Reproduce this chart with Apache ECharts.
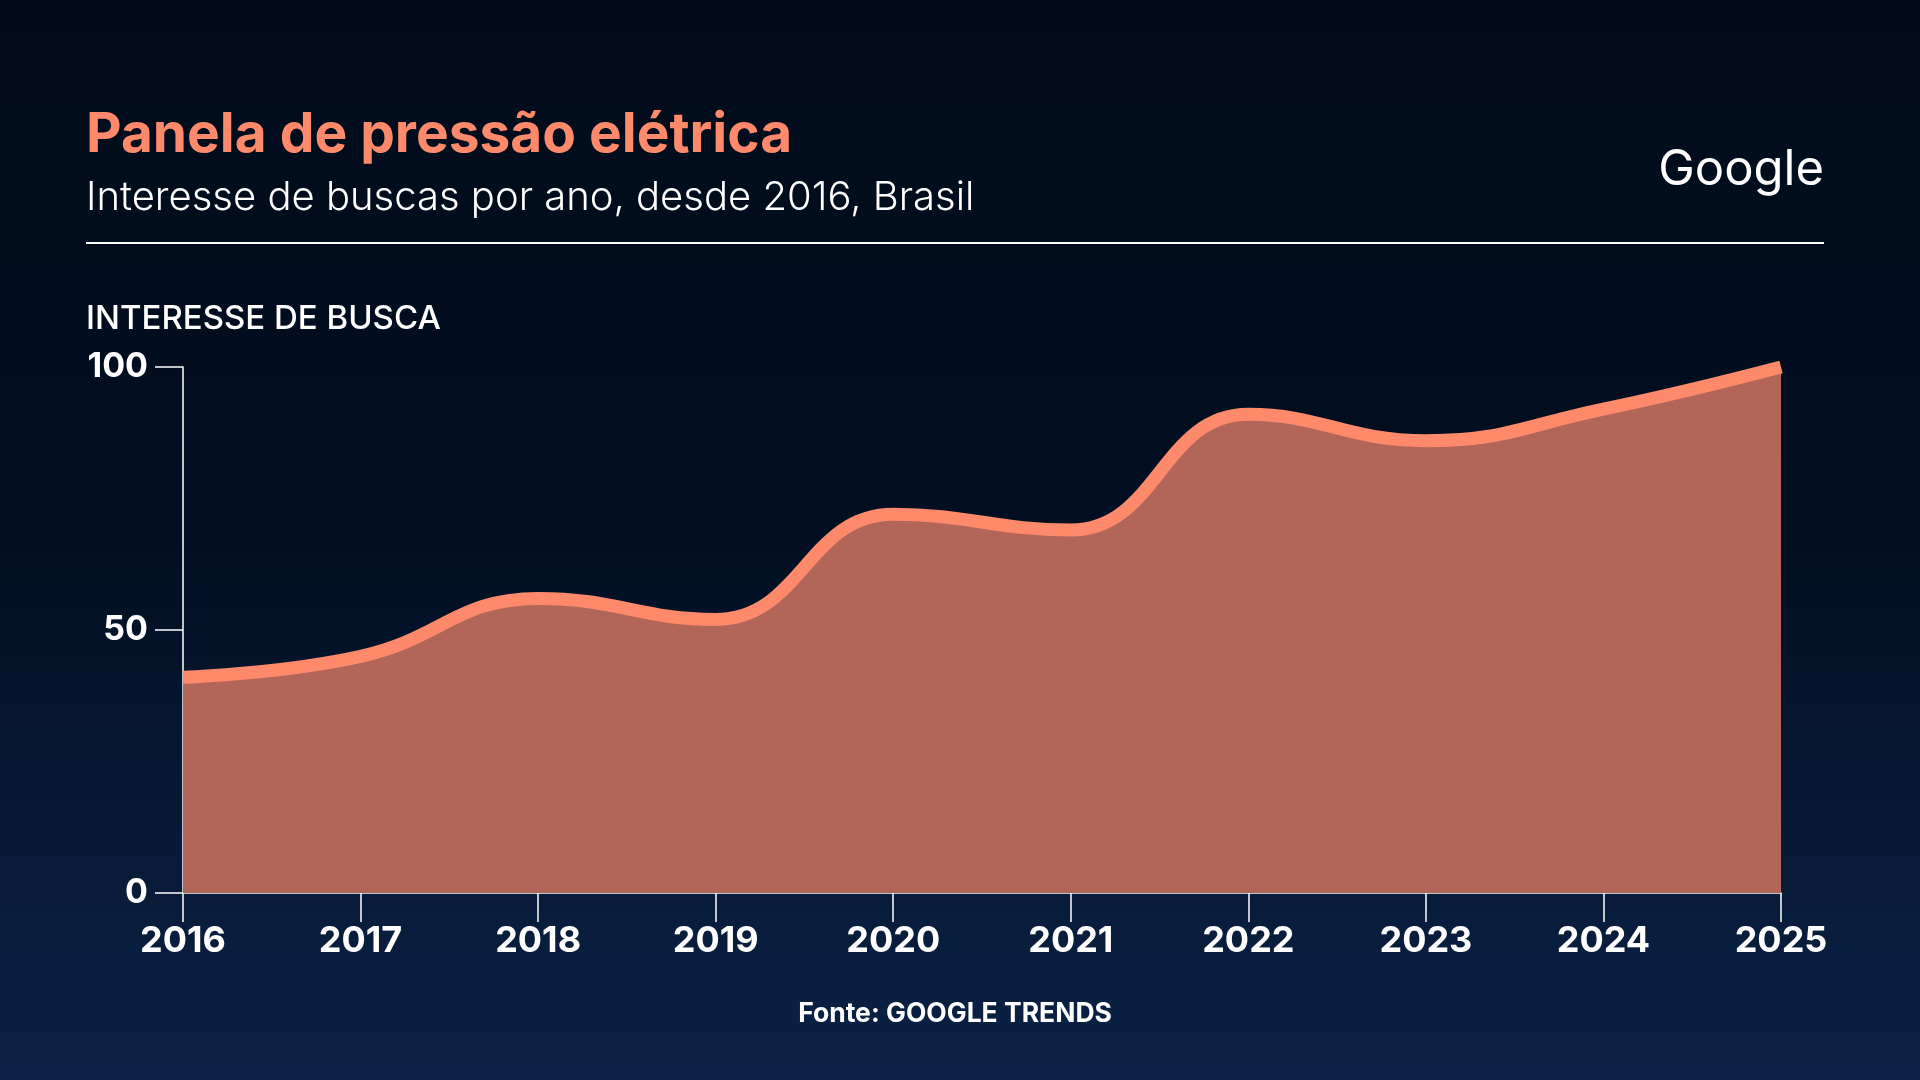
<!DOCTYPE html>
<html>
<head>
<meta charset="utf-8">
<script src="https://cdn.jsdelivr.net/npm/echarts@6/dist/echarts.min.js"></script>
<style>
  html, body { margin: 0; padding: 0; background: #010b1b; }
  #container { width: 1920px; height: 1080px; }
</style>
</head>
<body>
<div id="container"></div>
<script>
// chart data
var years = ['2016', '2017', '2018', '2019', '2020', '2021', '2022', '2023', '2024', '2025'];
var interesse = [41, 45, 56, 52, 72, 69, 91, 86, 92, 100];
var yTicks = [0, 50, 100];

var FONT = 'Inter, "Open Sans", sans-serif';

var dom = document.getElementById('container');
var myChart = echarts.init(dom, null, { renderer: 'canvas' });

var option = {
  backgroundColor: new echarts.graphic.LinearGradient(0, 0, 0, 1, [
    { offset: 0, color: '#010b1a' },
    { offset: 0.5, color: '#020f22' },
    { offset: 1, color: '#0b2246' }
  ]),
  textStyle: { fontFamily: FONT },
  graphic: [
    {   // title
      type: 'text', x: 86, y: 108,
      style: { text: 'Panela de pressão elétrica', fill: '#ff8a6b', font: 'bold 55px ' + FONT }
    },
    {   // subtitle
      type: 'text', x: 86, y: 178,
      style: { text: 'Interesse de buscas por ano, desde 2016, Brasil', fill: '#ffffff', font: '300 40px ' + FONT }
    },
    {   // logo text
      type: 'text', x: 1824, y: 146,
      style: { text: 'Google', fill: '#ffffff', font: '400 49px ' + FONT, align: 'right' }
    },
    {   // rule under the header
      type: 'rect', left: 86, top: 242,
      shape: { width: 1738, height: 2 },
      style: { fill: '#ffffff' }
    },
    {   // axis name
      type: 'text', x: 86, y: 303,
      style: { text: 'INTERESSE DE BUSCA', fill: '#ffffff', font: '500 33px ' + FONT }
    },
    {   // source
      type: 'text', x: 955, y: 1001,
      style: { text: 'Fonte: GOOGLE TRENDS', fill: '#ffffff', font: 'bold 26.5px ' + FONT, align: 'center' }
    }
  ],
  grid: { left: 183, right: 139, top: 367, bottom: 187 },
  xAxis: {
    type: 'category',
    data: years,
    boundaryGap: false,
    axisLine: { lineStyle: { color: '#ffffff', width: 1.5 } },
    axisTick: { length: 29, lineStyle: { color: '#ffffff', width: 1.5 } },
    axisLabel: { color: '#ffffff', fontSize: 36, fontWeight: 'bold', margin: 30, fontFamily: FONT },
    splitLine: { show: false }
  },
  yAxis: {
    type: 'value',
    min: 0, max: 100, interval: 50,
    axisLine: { show: true, lineStyle: { color: '#ffffff', width: 1.5 } },
    axisTick: { show: true, length: 28, lineStyle: { color: '#ffffff', width: 1.5 } },
    axisLabel: {
      color: '#ffffff', fontSize: 34, fontWeight: 'bold', margin: 35, fontFamily: FONT,
      formatter: function (v) { return yTicks.indexOf(v) >= 0 ? String(v) : ''; }
    },
    splitLine: { show: false }
  },
  series: [
    {
      name: 'Interesse',
      type: 'line',
      data: interesse,
      smooth: 0.45,
      symbol: 'none',
      lineStyle: { color: '#ff8a6b', width: 13 },
      areaStyle: { color: '#b26659', opacity: 1 },
      z: 3
    }
  ]
};

myChart.setOption(option);
window.addEventListener('resize', myChart.resize);
</script>
</body>
</html>
